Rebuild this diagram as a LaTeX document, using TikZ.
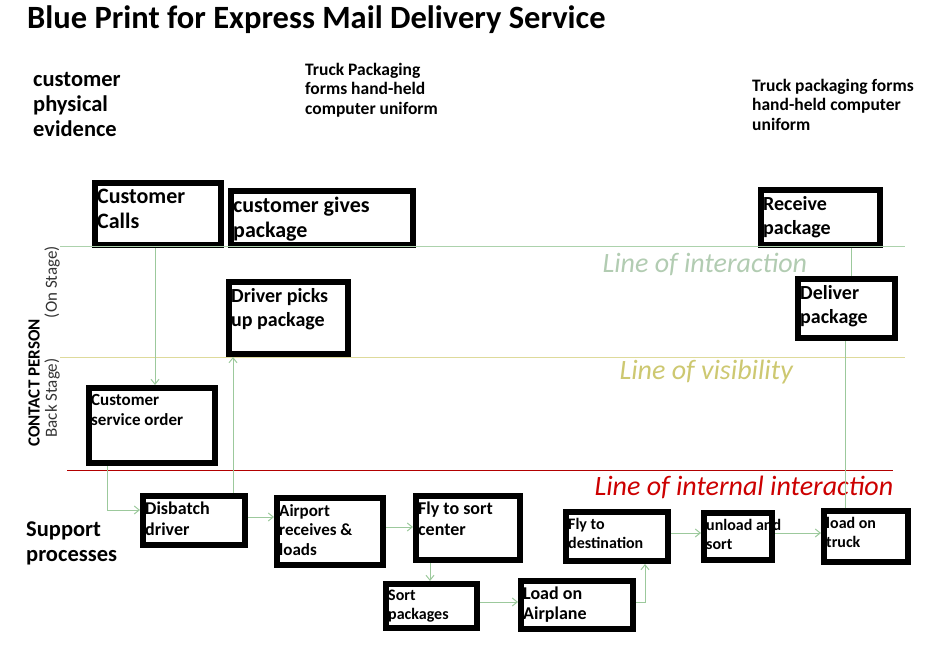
\documentclass[tikz,border=0pt]{standalone}
\usepackage{fontspec}
\setmainfont{Carlito}
\usetikzlibrary{arrows.meta}
\begin{document}
\begin{tikzpicture}[x=1pt,y=-1pt,
 box/.style={draw=black,line width=6pt,inner sep=0pt,anchor=north west},
 lbl/.style={anchor=north west,align=left,inner sep=0pt,font=\bfseries},
 conn/.style={draw=green!30!gray!60,line width=1pt,-{Straight Barb[length=5pt,width=8pt]}},
 plain/.style={draw=green!30!gray!60,line width=1pt}]
\useasboundingbox (0,0) rectangle (927,647);
\def\bx#1#2#3#4#5#6#7#8{\node[box,minimum width=#4-#2-6,minimum height=#5-#3-6] (#1) at (#2+3,#3+3) {};
 \node[lbl,font=\fontsize{#7}{#8}\selectfont\bfseries] (#1t) at (#2+8,#3+12) {#6};}
\bx{cc}{89}{177}{221}{245}{Customer\\Calls}{22}{25}
\bx{cg}{225}{185}{413}{245}{customer gives\\package}{22}{25}
\bx{rp}{755}{184}{880}{245}{Receive\\package}{20}{24}
\bx{dp}{223}{276}{348}{354}{Driver picks\\up package}{20}{24}
\bx{dl}{792}{273}{895}{338}{Deliver\\package}{20}{24}
\bx{cs}{83}{382}{215}{463}{Customer\\service order}{17}{20}
\bx{dd}{137}{490}{245}{545}{Disbatch\\driver}{18}{21}
\bx{ar}{271}{492}{383}{565}{Airport\\receives \&\\loads}{17}{19.5}
\bx{fs}{410}{490}{520}{560}{Fly to sort\\center}{18}{21}
\bx{sp}{380}{578}{477}{628}{Sort\\packages}{16}{19}
\bx{la}{515}{575}{633}{629}{Load on\\Airplane}{18}{20}
\bx{fd}{560}{506}{668}{561}{Fly to\\destination}{16}{19}
\bx{us}{698}{507}{772}{560}{unload and\\sort}{16}{19}
\bx{lt}{818}{505}{908}{562}{load on\\truck}{16}{19}
% lines
\coordinate (li1) at (60,247); \coordinate (li2) at (905,247);
\coordinate (lv1) at (60,357); \coordinate (lv2) at (905,357);
\coordinate (lr1) at (67,470); \coordinate (lr2) at (893,470);
\draw[draw=green!30!gray!50,line width=1pt] (li1) -- (li2);
\draw[draw=olive!30,line width=1pt] (lv1) -- (lv2);
\draw[draw=red!70!black,line width=1pt] (lr1) -- (lr2);
\node[anchor=west,font=\fontsize{28}{28}\selectfont\itshape,text=green!20!gray!50] (tli) at (599,264) {Line of interaction};
\node[anchor=west,font=\fontsize{28}{28}\selectfont\itshape,text=olive!45] (tlv) at (616,372) {Line of visibility};
\node[anchor=west,font=\fontsize{28}{28}\selectfont\itshape,text=red!80!black] (tlr) at (591,487) {Line of internal interaction};
% connectors
\draw[conn] (cc.south -| 155,0) -- (cs.north -| 155,0);
\draw[conn] (cs.south -| 107,0) |- (dd.west |- 0,510);
\draw[conn] (dd.north -| 233,0) -- (dp.south -| 233,0);
\draw[conn] (dd.east |- 0,517) -- (ar.west |- 0,517);
\draw[conn] (ar.east |- 0,527) -- (fs.west |- 0,527);
\draw[conn] (fs.south -| 430,0) -- (sp.north -| 430,0);
\draw[conn] (sp.east |- 0,602) -- (la.west |- 0,602);
\draw[conn] (la.east |- 0,602) -| (fd.south -| 645,0);
\draw[conn] (fd.east |- 0,533) -- (us.west |- 0,533);
\draw[conn] (us.east |- 0,533) -- (lt.west |- 0,533);
\draw[plain] (lt.north -| 845,0) -- (dl.south -| 845,0);
\draw[plain] (rp.south -| 851,0) -- (dl.north -| 851,0);
% texts
\node[anchor=west,font=\fontsize{32.5}{32}\selectfont\bfseries,inner sep=0pt] (title) at (27,20) {Blue Print for Express Mail Delivery Service};
\node[lbl,font=\fontsize{22.5}{25}\selectfont\bfseries] (cpe) at (33,72) {customer\\physical\\evidence};
\node[lbl,font=\fontsize{17.5}{19.5}\selectfont\bfseries] (tp1) at (305,63) {Truck Packaging\\forms hand-held\\computer uniform};
\node[lbl,font=\fontsize{17.5}{19.5}\selectfont\bfseries] (tp2) at (752,79) {Truck packaging forms\\hand-held computer\\uniform};
\node[rotate=90,font=\fontsize{17}{17}\selectfont\bfseries] (cp) at (34,383) {CONTACT PERSON};
\node[rotate=90,font=\fontsize{17}{17}\selectfont,text=black!80] (on) at (52,282) {(On Stage)};
\node[rotate=90,font=\fontsize{17}{17}\selectfont,text=black!80] (bs) at (52,398) {Back Stage)};
\node[lbl,font=\fontsize{22.5}{25}\selectfont\bfseries] (sup) at (26,522) {Support\\processes};
\end{tikzpicture}
\end{document}
